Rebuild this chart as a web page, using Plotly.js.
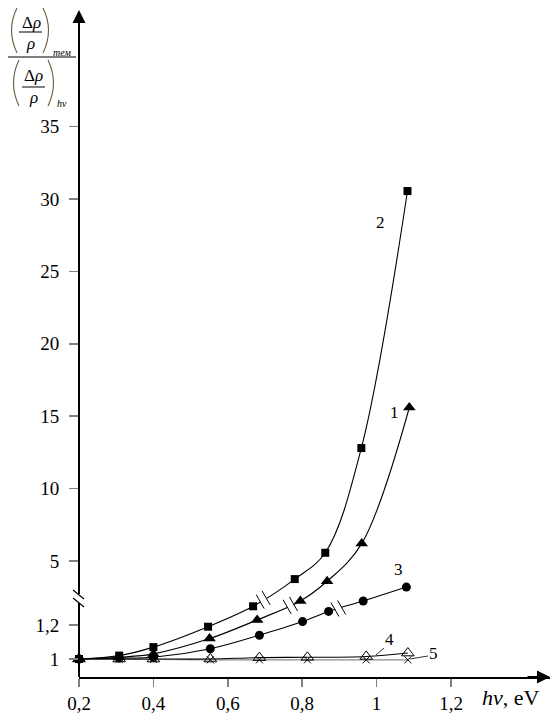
<!DOCTYPE html>
<html><head><meta charset="utf-8">
<script src="https://cdn.plot.ly/plotly-3.0.1.min.js"></script>
<style>html,body{margin:0;padding:0;background:#fff}</style>
</head><body><div id="chart" style="width:558px;height:723px"></div>
<script>
// ---------- data ----------
const x1 = [0.2, 0.308, 0.40, 0.551, 0.679, 0.795, 0.867, 0.960, 1.088];
const y1 = [1.00, 1.01, 1.03, 1.12, 1.23, 2.24, 3.6, 6.2, 15.6];
const x2 = [0.2, 0.308, 0.40, 0.547, 0.668, 0.780, 0.862, 0.959, 1.083];
const y2 = [1.00, 1.02, 1.07, 1.19, 1.31, 3.75, 5.57, 12.8, 30.55];
const x3 = [0.2, 0.308, 0.40, 0.553, 0.685, 0.801, 0.871, 0.964, 1.080];
const y3 = [1.00, 1.005, 1.01, 1.06, 1.14, 1.22, 1.28, 2.24, 3.2];
const x4 = [0.2, 0.308, 0.40, 0.553, 0.685, 0.814, 0.972, 1.084];
const y4 = [1.00, 1.00, 1.00, 1.00, 1.008, 1.01, 1.015, 1.035];
const x5 = [0.2, 0.308, 0.40, 0.553, 0.685, 0.814, 0.972, 1.084];
const y5 = [1.00, 0.998, 0.997, 0.995, 0.995, 0.995, 0.995, 0.995];
const curveNames = ['1', '2', '3', '4', '5'];
const breakX = [0.768, 0.695, 0.897];   // where curves 1,2,3 cross the axis break
const xTickVals = [0.2, 0.4, 0.6, 0.8, 1.0, 1.2];
const xTickText = ['0,2', '0,4', '0,6', '0,8', '1', '1,2'];
const yTickVals = [1, 1.2, 5, 10, 15, 20, 25, 30, 35];
const yTickText = ['1', '1,2', '5', '10', '15', '20', '25', '30', '35'];

// ---------- broken-axis scale ----------
const LOW_K = 170, UP_K = 14.48, U5 = 98, SPLIT = 1.7;
function f(v) { return v < SPLIT ? (v - 1) * LOW_K : U5 + (v - 5) * UP_K; }

const W = 558, H = 723, ML = 79, MR = 8, MT = 12, MB = 46;
const PW = W - ML - MR, PH = H - MT - MB;
const PXX = 372;
const xRange = [0.2, 0.2 + PW / PXX];
const yRange = [-18, -18 + PH];
const uBreakLo = 56, uBreakHi = 65;

const px = x => (x - xRange[0]) / (xRange[1] - xRange[0]);
const py = u => (u - yRange[0]) / (yRange[1] - yRange[0]);
const pp = (X, Y) => [(X - ML) / PW, (H - MB - Y) / PH];

const FONT = '"Liberation Serif", "Times New Roman", serif';

const mk = (xs, ys, sym, size, lineColor, mline) => ({
  x: xs, y: ys.map(f), mode: 'lines+markers', type: 'scatter', cliponaxis: false,
  line: { shape: 'spline', smoothing: 1, color: lineColor, width: 1.1 },
  marker: { symbol: sym, size: size, color: '#000', line: { color: '#000', width: mline } },
  hoverinfo: 'skip', showlegend: false
});

const traces = [
  mk(x5, y5, 'x-thin-open', 7, '#8a8a8a', 1),
  mk(x4, y4, 'triangle-up-open', 11, '#000', 1),
  mk(x3, y3, 'circle', 9, '#000', 0),
  mk(x1, y1, 'triangle-up', 11, '#000', 0),
  mk(x2, y2, 'square', 8, '#000', 0)
];

const shapes = [];
const line = (a, b, w, c) => shapes.push({ type: 'line', xref: 'paper', yref: 'paper',
  x0: a[0], y0: a[1], x1: b[0], y1: b[1], line: { color: c || '#000', width: w } });

// y axis with break
line([0, py(yRange[0])], [0, py(uBreakLo)], 2);
line([0, py(uBreakHi)], [0, 1], 2);
line(pp(73, 590), pp(84, 599), 1.2);
line(pp(73, 598), pp(84, 607), 1.2);

// break marks on curves
[[x1, y1], [x2, y2], [x3, y3]].forEach((c, k) => {
  const xs = c[0], ys = c[1].map(f), bx = breakX[k];
  let i = 0; while (i < xs.length - 2 && xs[i + 1] < bx) i++;
  const t = (bx - xs[i]) / (xs[i + 1] - xs[i]);
  const cu = ys[i] + t * (ys[i + 1] - ys[i]);
  const dx = (xs[i + 1] - xs[i]) * PXX, du = ys[i + 1] - ys[i];
  const L = Math.hypot(dx, du), ex = dx / L, eu = du / L;
  const cX = ML + px(bx) * PW, cY = H - MB - py(cu) * PH;  // pixel centre
  const P = (X, Y) => pp(X, Y);
  line(P(cX - 3.2 * ex, cY + 3.2 * eu), P(cX + 3.2 * ex, cY - 3.2 * eu), 3.5, '#fff');
  [-3.5, 3.5].forEach(s => {
    const mx = cX + s * ex, my = cY - s * eu;
    line(P(mx - 4, my - 7), P(mx + 4, my + 7), 1);
  });
});

// leader lines for labels 4 and 5
line(pp(376, 655), pp(384, 648), 0.8);
line(pp(410, 659), pp(428, 656), 0.8);

// y title: fraction of fractions
const paren = (a, c, b) => shapes.push({ type: 'path', xref: 'paper', yref: 'paper',
  path: `M ${a[0]},${a[1]} Q ${c[0]},${c[1]} ${b[0]},${b[1]}`, line: { color: '#6b5a40', width: 1.1 } });
paren(pp(17, 8), pp(6, 30), pp(17, 53));
paren(pp(43, 8), pp(54, 30), pp(43, 53));
paren(pp(19, 60), pp(8, 83), pp(19, 106));
paren(pp(48, 60), pp(59, 83), pp(48, 106));
line(pp(19, 32), pp(42, 32), 1);
line(pp(22, 87), pp(45, 87), 1);
line(pp(8, 57), pp(76, 57), 1);

const annotations = [];
const txt = (s, X, Y, size, extra) => {
  const p = pp(X, Y);
  annotations.push(Object.assign({ text: s, xref: 'paper', yref: 'paper', x: p[0], y: p[1],
    xanchor: 'center', yanchor: 'middle', showarrow: false,
    font: { family: FONT, size: size, color: '#000' } }, extra || {}));
};
txt('Δ<i>ρ</i>', 31, 22, 17);
txt('<i>ρ</i>', 30, 44, 17);
txt('<i>тем</i>', 62, 53, 10);
txt('Δ<i>ρ</i>', 33, 76, 17);
txt('<i>ρ</i>', 33, 97, 17);
txt('<i>hν</i>', 62, 104, 10);

// x title
txt('<i>hν</i>, eV', 511, 697, 22);

// curve labels
const labelPos = [[394, 412], [380, 222], [398, 569], [389, 639], [433, 653]];
curveNames.forEach((n, k) => txt(n, labelPos[k][0], labelPos[k][1], 17));

// axis arrowheads
annotations.push({ xref: 'paper', yref: 'paper', x: 1, y: 0, ax: -24, ay: 0, text: '',
  showarrow: true, arrowhead: 2, arrowsize: 1.3, arrowwidth: 2, arrowcolor: '#000' });
annotations.push({ xref: 'paper', yref: 'paper', x: 0, y: 1.003, ax: 0, ay: 24, text: '',
  showarrow: true, arrowhead: 2, arrowsize: 1.3, arrowwidth: 2, arrowcolor: '#000' });

const layout = {
  width: W, height: H, margin: { l: ML, r: MR, t: MT, b: MB },
  paper_bgcolor: '#fff', plot_bgcolor: '#fff', showlegend: false,
  font: { family: FONT, size: 19, color: '#000' },
  xaxis: { range: xRange, tickvals: xTickVals, ticktext: xTickText, ticks: 'outside',
    ticklen: 8, tickwidth: 1.5, tickcolor: '#808080', showgrid: false, zeroline: false,
    showline: true, linecolor: '#000', linewidth: 2, fixedrange: true,
    tickfont: { family: FONT, size: 19, color: '#000' } },
  yaxis: { range: yRange, tickvals: yTickVals.map(f), ticktext: yTickText, ticks: 'outside',
    ticklen: 9, tickwidth: 1.5, tickcolor: '#808080', showgrid: false, zeroline: false,
    showline: false, fixedrange: true, ticklabelstandoff: 6,
    tickfont: { family: FONT, size: 19, color: '#000' } },
  shapes: shapes, annotations: annotations
};

Plotly.newPlot('chart', traces, layout, { staticPlot: true, displayModeBar: false });
</script></body></html>
